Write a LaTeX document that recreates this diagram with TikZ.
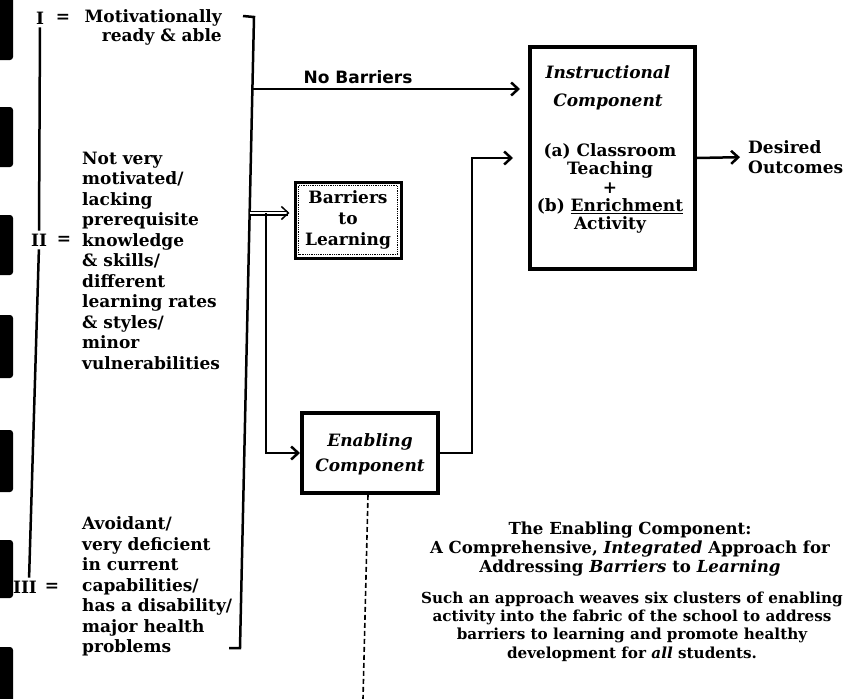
\documentclass[tikz,border=0pt]{standalone}
\usepackage{fontspec}
\setmainfont{DejaVu Serif}
\newfontfamily\labelsans{DejaVu Sans}
\usetikzlibrary{arrows.meta}
\begin{document}
\begin{tikzpicture}[x=1pt,y=-1pt,
  every node/.style={inner sep=0pt},
  sidetext/.style={font=\fontsize{17}{20.5}\selectfont\bfseries, align=left},
  romanlbl/.style={font=\fontsize{17}{20}\selectfont\bfseries},
  boxtext/.style={font=\fontsize{17}{18.25}\selectfont\bfseries, align=center},
  titletext/.style={font=\fontsize{16.6}{19}\selectfont\bfseries, align=center},
  notetext/.style={font=\fontsize{15.2}{18.3}\selectfont\bfseries, align=center},
  compbox/.style={draw, line width=4pt},
  conn/.style={line width=2.5pt, -{Straight Barb[length=7pt,width=13pt]}},
  dblconn/.style={double, line width=1.5pt, double distance=2pt, -{Straight Barb[length=7pt,width=13pt]}},
  plainline/.style={line width=2.5pt},
  leftbar/.style={fill=black, rounded corners=3pt},
]
\useasboundingbox (0,0) rectangle (855,699);

% margin marks along the left edge
\foreach \ya/\yb in {-10/60, 107/167, 215/275, 315/378, 430/492, 540/598, 647/710}
  \fill[leftbar] (-8,\ya) rectangle (13,\yb);

% student groups
\node[romanlbl] (r1) at (40,18) {I};
\node[romanlbl] (q1) at (63,18) {=};
\node[sidetext, align=right, anchor=east, font=\fontsize{17}{19}\selectfont\bfseries] (t1) at (222,27.5) {Motivationally\\ready \& able};

\node[romanlbl] (r2) at (39,240) {II};
\node[romanlbl] (q2) at (64,240) {=};
\node[sidetext, anchor=west] (t2) at (82,260.5) {Not very\\motivated/\\lacking\\prerequisite\\knowledge\\\& skills/\\different\\learning rates\\\& styles/\\minor\\vulnerabilities};

\node[romanlbl] (r3) at (25,587) {III};
\node[romanlbl] (q3) at (52,587) {=};
\node[sidetext, anchor=west] (t3) at (82,586.5) {Avoidant/\\very deficient\\in current\\capabilities/\\has a disability/\\major health\\problems};

\draw[plainline, shorten <=3pt, shorten >=3pt] (r1.south) -- (r2.north);
\draw[plainline, shorten <=3pt, shorten >=3pt] (r2.south) -- ([xshift=4pt]r3.north);

% bracket grouping all students
\coordinate (bkT0) at (243,16);
\coordinate (bkT) at (254,17);
\coordinate (bkB) at (240,648);
\coordinate (bkB0) at (229,648);
\draw[plainline] (bkT0) -- (bkT) -- (bkB) -- (bkB0);
\coordinate (forkA) at (252.4,89);
\coordinate (forkB) at (249.7,213);
\coordinate (dropTop) at (266,213);

% components
\node[compbox, minimum width=165, minimum height=222] (instr) at (612.5,158) {};
\node[boxtext, font=\fontsize{17}{28}\selectfont\bfseries\itshape] (instrhead) at (608,88) {Instructional\\Component};
\node[boxtext] (instrbody) at (610,188.5) {(a) Classroom\\Teaching\\+\\(b) \underline{Enrichment}\\Activity};

\node[draw, line width=3pt, minimum width=106, minimum height=76, boxtext, font=\fontsize{17}{21}\selectfont\bfseries] (barr) at (348,220) {Barriers\\to\\Learning};
\draw[densely dotted, line width=0.8pt] ([xshift=5pt,yshift=-5pt]barr.north west) rectangle ([xshift=-5pt,yshift=5pt]barr.south east);

\node[compbox, minimum width=136, minimum height=80] (enab) at (370,453) {};
\node[boxtext, font=\fontsize{17}{25}\selectfont\bfseries\itshape] (enabtxt) at (370,454.5) {Enabling\\Component};

\node[boxtext, align=left, anchor=west, font=\fontsize{17}{20}\selectfont\bfseries] (outc) at (748,157) {Desired\\Outcomes};

% connectors
\draw[conn, shorten >=8pt] (forkA) -- (forkA -| instr.west);
\node[font=\labelsans\fontsize{17}{18}\selectfont\bfseries] (nb) at (358,77) {No Barriers};
\draw[dblconn, shorten >=4pt] (forkB) -- (forkB -| barr.west);
\coordinate (riser) at (472,300);
\draw[conn] (dropTop) |- (enab.west);
\draw[conn, shorten >=15pt] (enab.east) -| (riser) |- (instr.west);
\draw[conn, shorten >=8pt] (instr.east) -- (outc.west);
\coordinate (dashEnd) at (363,699);
\draw[line width=1.6pt, dash pattern=on 5pt off 3pt] ([xshift=-2pt]enab.south) -- (dashEnd);

% description
\node[titletext] (ttl) at (630,549) {The Enabling Component:\\A Comprehensive, \textit{Integrated} Approach for\\Addressing \textit{Barriers} to \textit{Learning}};
\node[notetext] (desc) at (632,626.5) {Such an approach weaves six clusters of enabling\\activity into the fabric of the school to address\\barriers to learning and promote healthy\\development for \textit{all} students.};
\end{tikzpicture}
\end{document}
